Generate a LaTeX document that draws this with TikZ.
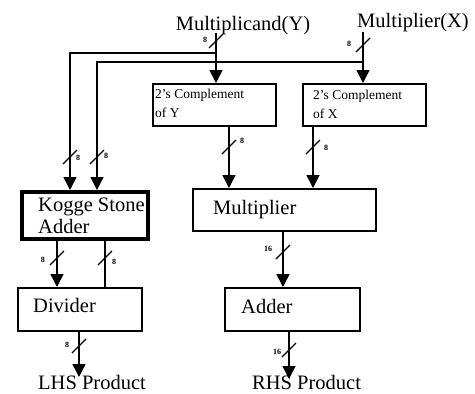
\documentclass[tikz,border=0pt]{standalone}
\usepackage{fontspec}
\setmainfont{Liberation Serif}
\usetikzlibrary{arrows.meta}
\begin{document}
\begin{tikzpicture}[x=1pt,y=-1pt,
  wire/.style={line width=1.5pt},
  arr/.style={wire,-{Triangle[width=13pt,length=13pt]}},
  blk/.style={draw,line width=1.6pt,inner sep=0pt,anchor=north west},
  thickblk/.style={draw,line width=4pt,inner sep=0pt,anchor=north west},
  big/.style={font=\fontsize{20.5}{24}\selectfont,inner sep=0pt,anchor=base west},
  small/.style={font=\fontsize{13.5}{16}\selectfont,inner sep=0pt,anchor=base west},
  bw/.style={font=\fontsize{8}{9}\selectfont\bfseries,inner sep=0pt},
  slash/.style={line width=1.3pt}]
\useasboundingbox (0,0) rectangle (475,394);

% top labels
\node[big,anchor=base] (mcand) at (243,30) {Multiplicand(Y)};
\node[big,anchor=base] (mplier) at (413,27) {Multiplier(X)};

% boxes
\node[blk,minimum width=123pt,minimum height=42pt] (cy) at (152,83) {};
\node[blk,minimum width=123pt,minimum height=42pt] (cx) at (302,83) {};
\node[thickblk,minimum width=126pt,minimum height=47pt] (kogge) at (20,190) {};
\node[blk,minimum width=183pt,minimum height=42pt] (mult) at (192,188) {};
\node[blk,minimum width=124pt,minimum height=43pt] (div) at (17,287) {};
\node[blk,minimum width=135pt,minimum height=43pt] (add) at (224,287) {};

% box texts
\node[small] (cyt1) at (155,98) {2's Complement};
\node[small] (cyt2) at (155,117) {of Y};
\node[small] (cxt1) at (313,99) {2's Complement};
\node[small] (cxt2) at (313,118) {of X};
\node[big] (kt1) at (38,211) {Kogge Stone};
\node[big] (kt2) at (38,233) {Adder};
\node[big] (mt) at (213,214) {Multiplier};
\node[big] (dt) at (33,312) {Divider};
\node[big] (at) at (241,313) {Adder};
\node[big] (lhs) at (38,389) {LHS Product};
\node[big] (rhs) at (252,389) {RHS Product};

% coordinates
\coordinate (ys) at (216,33);
\coordinate (xs) at (363,32);
\coordinate (yb) at (216,53);
\coordinate (xb) at (363,62);
\coordinate (kin1) at (70,190);
\coordinate (kin2) at (97,190);
\coordinate (ko1) at (57,237);
\coordinate (ko2) at (105,237);
\coordinate (lhsend) at (79,377);
\coordinate (rhsend) at (289,379);

% connectors
\draw[arr] (ys) -- (ys |- cy.north);
\draw[arr] (xs) -- (xs |- cx.north);
\draw[arr] (yb) -| (kin1);
\draw[arr] (xb) -| (kin2);
\draw[arr] (cy.south -| 229,0) -- (mult.north -| 229,0);
\draw[arr] (cx.south -| 313,0) -- (mult.north -| 313,0);
\draw[arr] (ko1) -- (ko1 |- div.north);
\draw[wire] (ko2) -- (ko2 |- div.north);
\draw[arr] (mult.south -| 283,0) -- (add.north -| 283,0);
\draw[arr] (div.south -| lhsend) -- (lhsend);
\draw[arr] (add.south -| rhsend) -- (rhsend);

% bus width marks
\draw[slash] (209,48) -- (223,34);
\node[bw] (b1) at (205,40) {8};
\draw[slash] (356,52) -- (370,38);
\node[bw] (b2) at (349,44) {8};
\draw[slash] (63,164) -- (77,150);
\node[bw] (b3) at (78,158) {8};
\draw[slash] (90,164) -- (104,150);
\node[bw] (b4) at (106,156) {8};
\draw[slash] (222,154) -- (236,140);
\node[bw] (b5) at (242,141) {8};
\draw[slash] (306,154) -- (320,140);
\node[bw] (b6) at (326,148) {8};
\draw[slash] (50,265) -- (64,251);
\node[bw] (b7) at (43,260) {8};
\draw[slash] (98,265) -- (112,251);
\node[bw] (b8) at (114,262) {8};
\draw[slash] (276,259) -- (290,245);
\node[bw] (b9) at (268,249) {16};
\draw[slash] (72,353) -- (86,339);
\node[bw] (b10) at (67,345) {8};
\draw[slash] (282,357) -- (296,343);
\node[bw] (b11) at (277,352) {16};
\end{tikzpicture}
\end{document}
